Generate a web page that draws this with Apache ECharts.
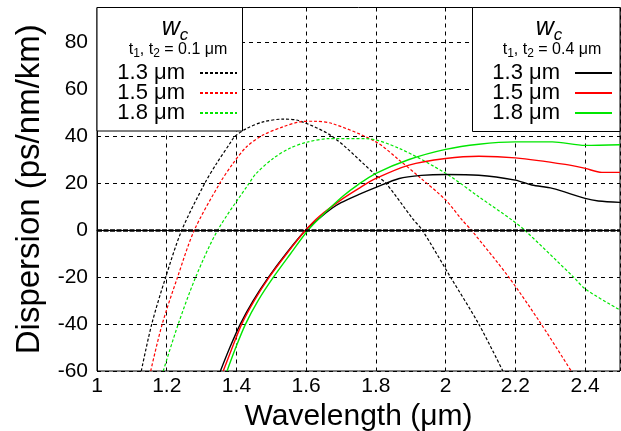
<!DOCTYPE html>
<html lang="en">

<head>
    <meta charset="UTF-8">
    <title>Dispersion vs wavelength</title>
    <script src="https://cdn.jsdelivr.net/npm/echarts@6.0.0/dist/echarts.min.js"></script>
    <style>
        html, body { margin: 0; padding: 0; background: #fff; }
    </style>
</head>

<body>
    <div id="myChart" style="width: 621px; height: 431px;"></div>
    <script>
        // wavelength (um) and dispersion (ps/nm/km)
        // thin strips t1, t2 = 0.1 um (dashed)
        const thinLam13 = [1.127, 1.157, 1.197, 1.243, 1.309, 1.343, 1.381, 1.395, 1.429, 1.476, 1.533, 1.58, 1.675, 1.8, 1.829, 1.904, 1.933, 2.014, 2.095, 2.164];
        const thinD13 = [-60, -40, -20, 0, 20, 28.5, 37, 40, 43.4, 46.2, 47.4, 46.7, 40, 23.5, 20, 5.2, 0, -20, -40, -60];
        const thinLam15 = [1.154, 1.187, 1.231, 1.279, 1.352, 1.39, 1.429, 1.476, 1.533, 1.58, 1.62, 1.675, 1.8, 1.867, 1.924, 2.0, 2.047, 2.074, 2.181, 2.274, 2.36];
        const thinD15 = [-60, -40, -20, 0, 20, 28.5, 35.6, 40.6, 44.1, 46.2, 46.5, 45.5, 37.7, 29.9, 22.8, 12.9, 4.4, 0, -20, -40, -60];
        const thinLam18 = [1.19, 1.233, 1.283, 1.346, 1.436, 1.457, 1.505, 1.552, 1.6, 1.667, 1.771, 1.867, 2.0, 2.095, 2.19, 2.227, 2.367, 2.4, 2.5];
        const thinD18 = [-60, -40, -20, 0, 20, 24.3, 30.6, 34.9, 37.5, 39.1, 39.1, 34.9, 24.3, 14.3, 4.4, 0, -20, -25, -34];

        // thick strips t1, t2 = 0.4 um (solid)
        const thickLam13 = [1.354, 1.381, 1.411, 1.448, 1.492, 1.542, 1.598, 1.638, 1.675, 1.7, 1.75, 1.8, 1.867, 1.93, 2.0, 2.095, 2.2, 2.247, 2.306, 2.4, 2.438, 2.5];
        const thickD13 = [-60, -50, -40, -30, -20, -10, 0, 5.2, 9.5, 11.8, 15.2, 18.3, 22.1, 23.4, 23.8, 23.5, 21.4, 19.3, 17.9, 13.6, 12.5, 11.9];
        const thickLam15 = [1.362, 1.388, 1.415, 1.451, 1.494, 1.544, 1.598, 1.638, 1.705, 1.75, 1.8, 1.895, 2.0, 2.095, 2.2, 2.343, 2.4, 2.448, 2.5];
        const thickD15 = [-60, -50, -40, -30, -20, -10, 0, 6, 13.5, 17.8, 22.1, 27.8, 30.6, 31.6, 30.9, 28.1, 26.4, 24.7, 24.7];
        const thickLam18 = [1.373, 1.398, 1.426, 1.462, 1.506, 1.555, 1.605, 1.64, 1.705, 1.75, 1.8, 1.895, 2.0, 2.095, 2.2, 2.306, 2.4, 2.5];
        const thickD18 = [-60, -50, -40, -30, -20, -10, 0, 5.5, 14.5, 19.6, 24.3, 30.2, 34.5, 36.7, 37.7, 37.7, 36.2, 36.5];

        const coreWidths = ['1.3', '1.5', '1.8'];
        const colors = ['#000000', '#ff0000', '#00e600'];
        const xTicks = [1, 1.2, 1.4, 1.6, 1.8, 2, 2.2, 2.4];
        const yTicks = [-60, -40, -20, 0, 20, 40, 60, 80];

        const font = 'Liberation Sans';
        const zip = (xs, ys) => xs.map((x, i) => [x, ys[i]]);

        const thinSets = [zip(thinLam13, thinD13), zip(thinLam15, thinD15), zip(thinLam18, thinD18)];
        const thickSets = [zip(thickLam13, thickD13), zip(thickLam15, thickD15), zip(thickLam18, thickD18)];

        const series = [];
        thinSets.forEach((data, i) => {
            series.push({
                name: '0.1|' + coreWidths[i],
                type: 'line',
                data: data,
                showSymbol: false,
                symbol: 'none',
                smooth: 0.3,
                lineStyle: { color: colors[i], width: 1.2, type: [3, 2] },
                itemStyle: { color: colors[i] }
            });
        });
        thickSets.forEach((data, i) => {
            series.push({
                name: '0.4|' + coreWidths[i],
                type: 'line',
                data: data,
                showSymbol: false,
                symbol: 'none',
                smooth: 0.3,
                lineStyle: { color: colors[i], width: 1.4, type: 'solid' },
                itemStyle: { color: colors[i] }
            });
        });
        // zero line
        series[0].markLine = {
            silent: true,
            symbol: ['none', 'none'],
            label: { show: false },
            lineStyle: { color: '#000', width: 2.5, type: [5, 1.5] },
            data: [{ yAxis: 0 }]
        };

        const legendBase = {
            orient: 'vertical',
            align: 'right',
            padding: 0,
            itemGap: -2,
            itemWidth: 37,
            itemHeight: 10,
            top: 62,
            z: 20,
            itemStyle: { opacity: 0 },
            formatter: (name) => name.split('|')[1] + ' μm',
            textStyle: { fontFamily: font, fontSize: 22, lineHeight: 20, color: '#000', padding: [0, 10, 0, 0] }
        };

        const header = (cx, t) => [
            {
                type: 'text', x: cx, y: 28, z: 10,
                style: {
                    text: '{w|w}{c|c}', align: 'center', verticalAlign: 'middle',
                    rich: {
                        w: { fontFamily: font, fontSize: 25, fontStyle: 'italic', fill: '#000' },
                        c: { fontFamily: font, fontSize: 17, fontStyle: 'italic', fill: '#000', padding: [14, 0, 0, 0] }
                    }
                }
            },
            {
                type: 'text', x: cx + 3, y: 50, z: 10,
                style: {
                    text: '{m|t}{s|1}{m|, t}{s|2}{m| = ' + t + ' μm}', align: 'center', verticalAlign: 'middle',
                    rich: {
                        m: { fontFamily: font, fontSize: 16, fill: '#000' },
                        s: { fontFamily: font, fontSize: 12, fill: '#000', padding: [8, 0, 0, 0] }
                    }
                }
            }
        ];

        const myChart = echarts.init(document.getElementById('myChart'), null, { renderer: 'canvas' });
        const option = {
            animation: false,
            backgroundColor: '#fff',
            grid: {
                left: 97, right: 1, top: 7.5, bottom: 60,
                outerBoundsMode: 'none',
                show: true, borderColor: '#000', borderWidth: 1
            },
            xAxis: {
                type: 'value',
                min: 1, max: 2.5, interval: 0.2,
                name: 'Wavelength (μm)',
                nameLocation: 'middle',
                nameGap: 23,
                nameTextStyle: { fontFamily: font, fontSize: 30, color: '#000' },
                axisLine: { show: true, lineStyle: { color: '#000', width: 1 } },
                axisTick: { show: false },
                axisLabel: {
                    fontFamily: font, fontSize: 21, color: '#000', margin: 5,
                    showMaxLabel: false,
                    formatter: (v) => xTicks.some(t => Math.abs(t - v) < 1e-6) ? String(+v.toFixed(1)) : ''
                },
                splitLine: { show: true, lineStyle: { color: '#000', width: 1, type: [4, 4] } }
            },
            yAxis: {
                type: 'value',
                min: -60, max: 95, interval: 20,
                name: 'Dispersion (ps/nm/km)',
                nameLocation: 'middle',
                nameGap: 50,
                nameTextStyle: { fontFamily: font, fontSize: 33, color: '#000' },
                axisLine: { show: true, lineStyle: { color: '#000', width: 1 } },
                axisTick: { show: false },
                axisLabel: {
                    fontFamily: font, fontSize: 21, color: '#000', margin: 9,
                    showMaxLabel: false,
                    formatter: (v) => yTicks.includes(Math.round(v)) ? String(Math.round(v)) : ''
                },
                splitLine: { show: true, lineStyle: { color: '#000', width: 1, type: [4, 4] } }
            },
            legend: [
                Object.assign({}, legendBase, { right: 383, data: series.slice(0, 3).map(s => s.name) }),
                Object.assign({}, legendBase, { right: 8, data: series.slice(3, 6).map(s => s.name) })
            ],
            graphic: [
                {
                    type: 'rect', z: 5,
                    shape: { x: 97, y: 7.5, width: 145.5, height: 123.5 },
                    style: { fill: '#fff', stroke: '#000', lineWidth: 1 }
                },
                {
                    type: 'rect', z: 5,
                    shape: { x: 472.5, y: 7.5, width: 147.5, height: 124 },
                    style: { fill: '#fff', stroke: '#000', lineWidth: 1 }
                }
            ].concat(header(175, '0.1'), header(549, '0.4')),
            series: series
        };
        myChart.setOption(option);
    </script>
</body>

</html>
